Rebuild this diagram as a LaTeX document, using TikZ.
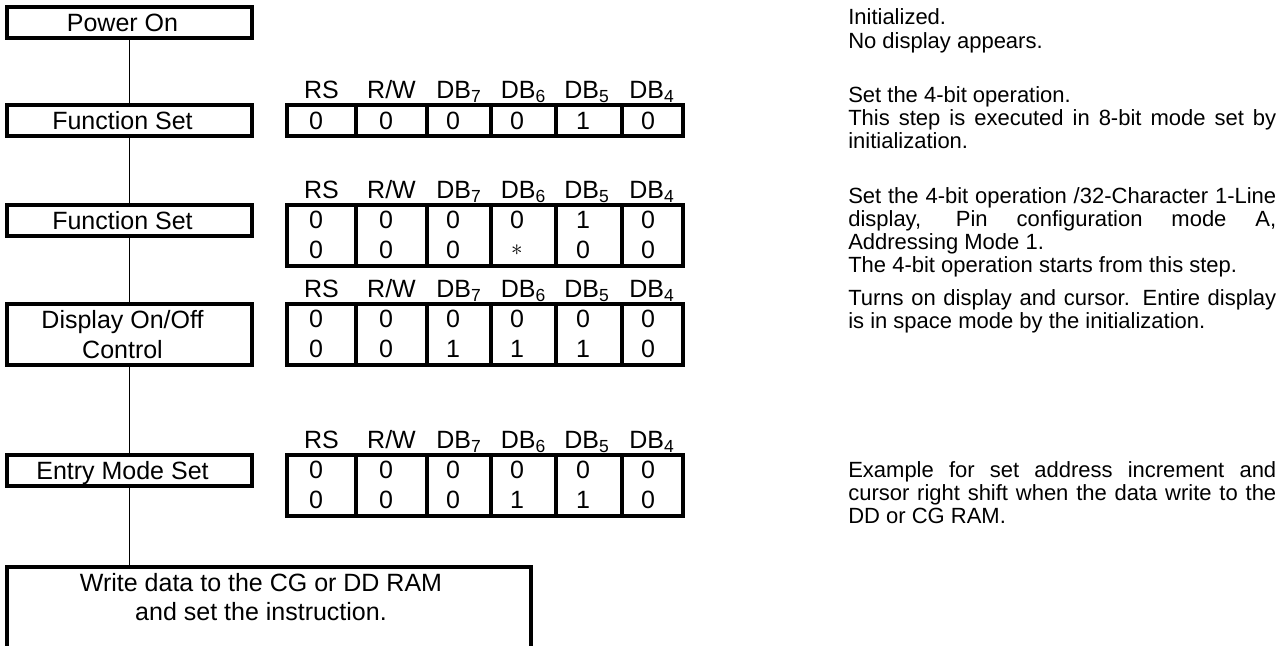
\documentclass[tikz,border=0pt]{standalone}
\usepackage{fontspec}
\setmainfont{Liberation Sans}
\newcommand\lsh{\hspace*{10.5pt}}
\begin{document}
\begin{tikzpicture}[x=0.75pt,y=-0.75pt,
  font=\fontsize{18.75}{19.5}\selectfont,
  stepbox/.style={draw, line width=3pt, inner sep=0pt, align=center, minimum width=183.75pt, minimum height=23.25pt},
  onebox/.style={stepbox, text height=13.5pt, text depth=0pt},
  frame/.style={line width=3pt},
  grid/.style={line width=2.6pt},
  conn/.style={line width=1.2pt},
  hdr/.style={inner sep=0pt, anchor=base},
  cell/.style={inner sep=0pt},
  desc/.style={inner sep=0pt, anchor=base west, font=\fontsize{16.5}{18}\selectfont}]
\useasboundingbox (0,0) rectangle (1283,646);

% left flow boxes
\node[onebox] (po) at (129.5,22.5) {Power On\lsh};
\node[onebox] (fs1) at (129.5,120.5) {Function Set\lsh};
\node[onebox] (fs2) at (129.5,220.5) {Function Set\lsh};
\node[stepbox, minimum height=45.75pt, font=\fontsize{18.75}{22.5}\selectfont] (dc) at (129.5,334.5) {Display On/Off\lsh\\Control\lsh};
\node[onebox] (em) at (129.5,470.5) {Entry Mode Set\lsh};
\node[stepbox, anchor=north, minimum width=393pt, minimum height=90pt] (wd) at (269,565) {};
\node[inner sep=0pt, align=center, font=\fontsize{18.75}{21.75}\selectfont] (wdt) at (261,597.5) {Write data to the CG or DD RAM\\and set the instruction.};

\draw[conn] (po.south) -- (fs1.north);
\draw[conn] (fs1.south) -- (fs2.north);
\draw[conn] (fs2.south) -- (dc.north);
\draw[conn] (dc.south) -- (em.north);
\draw[conn] (em.south) -- (em.south |- wd.north);

% tables
\newcommand\tabframe[2]{%
  \draw[frame] (287,#1) rectangle (683,#2);
  \foreach \xx in {356,427,491,556,622} \draw[grid] (\xx,#1) -- (\xx,#2);
  \node[hdr] (rs#1) at (321.5,#1-7) {RS};
  \node[hdr] (rw#1) at (391.5,#1-7) {R/W};
  \node[hdr] (db7#1) at (459,#1-7) {DB\textsubscript{7}};
  \node[hdr] (db6#1) at (523.5,#1-7) {DB\textsubscript{6}};
  \node[hdr] (db5#1) at (587,#1-7) {DB\textsubscript{5}};
  \node[hdr] (db4#1) at (652,#1-7) {DB\textsubscript{4}};
}
\newcommand\tabrow[7]{%
  \node[cell] (c#1a) at (316,#1) {#2};
  \node[cell] (c#1b) at (386,#1) {#3};
  \node[cell] (c#1c) at (453,#1) {#4};
  \node[cell] (c#1d) at (517,#1) {#5};
  \node[cell] (c#1e) at (583,#1) {#6};
  \node[cell] (c#1f) at (648,#1) {#7};
}
\tabframe{105}{136}
\tabrow{120.5}{0}{0}{0}{0}{1}{0}
\tabframe{205}{266}
\tabrow{220}{0}{0}{0}{0}{1}{0}
\tabrow{250}{0}{0}{0}{$\ast$}{0}{0}
\tabframe{304}{365}
\tabrow{319}{0}{0}{0}{0}{0}{0}
\tabrow{349}{0}{0}{1}{1}{1}{0}
\tabframe{455}{516}
\tabrow{470}{0}{0}{0}{0}{0}{0}
\tabrow{500}{0}{0}{0}{1}{1}{0}

% descriptions
\def\jw{321pt}
\node[desc] (d1) at (848,25) {Initialized.};
\node[desc] (d2) at (848,48) {No display appears.};
\node[desc] (d3) at (848,102) {Set the 4-bit operation.};
\node[desc] (d4) at (848,125) {\makebox[\jw][s]{This step is executed in 8-bit mode set by}};
\node[desc] (d5) at (848,148) {initialization.};
\node[desc] (d6) at (848,203) {\makebox[\jw][s]{Set the 4-bit operation /32-Character 1-Line}};
\node[desc] (d7) at (848,226) {\makebox[\jw][s]{display, Pin configuration mode A,}};
\node[desc] (d8) at (848,249) {Addressing Mode 1.};
\node[desc] (d9) at (848,272) {The 4-bit operation starts from this step.};
\node[desc] (d10) at (848,305) {\makebox[\jw][s]{Turns on display and cursor. Entire display}};
\node[desc] (d11) at (848,328) {is in space mode by the initialization.};
\node[desc] (d12) at (848,477) {\makebox[\jw][s]{Example for set address increment and}};
\node[desc] (d13) at (848,500) {\makebox[\jw][s]{cursor right shift when the data write to the}};
\node[desc] (d14) at (848,523) {DD or CG RAM.};
\end{tikzpicture}
\end{document}
